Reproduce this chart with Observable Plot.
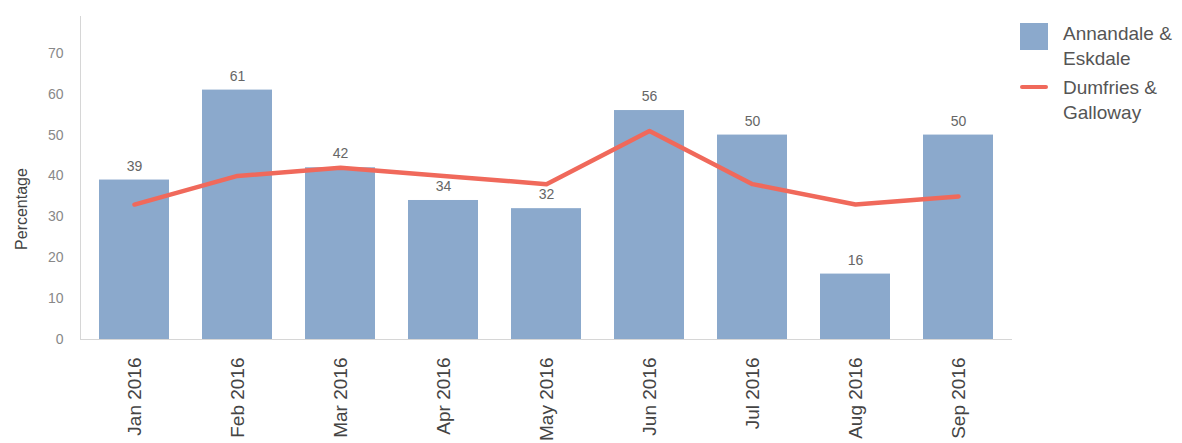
<!DOCTYPE html>
<html>
<head>
<meta charset="utf-8">
<script src="https://cdn.jsdelivr.net/npm/d3@7"></script>
<script src="https://cdn.jsdelivr.net/npm/@observablehq/plot@0.6"></script>
<style>
  body { margin: 0; background: #fff; font-family: "Liberation Sans", Arial, sans-serif; }
  #wrap { position: relative; width: 1182px; height: 443px; }
  #legend { position: absolute; left: 1020px; top: 21px; font-size: 19px; color: #555; line-height: 25px; }
  .item { display: flex; align-items: flex-start; }
  .sw { width: 28px; height: 27px; background: #8BA9CC; margin-right: 15px; margin-top: 2px; flex: none; }
  .ln { width: 28px; height: 4px; background: #F0695B; margin-right: 15px; margin-top: 10px; flex: none; border-radius: 2px; }
</style>
</head>
<body>
<div id="wrap">
  <div id="chart"></div>
  <div id="legend">
    <div class="item"><div class="sw"></div><div>Annandale &amp;<br>Eskdale</div></div>
    <div class="item" style="margin-top:4px"><div class="ln"></div><div>Dumfries &amp;<br>Galloway</div></div>
  </div>
</div>
<script>
const months = ["Jan 2016","Feb 2016","Mar 2016","Apr 2016","May 2016","Jun 2016","Jul 2016","Aug 2016","Sep 2016"];
const annandale = [39, 61, 42, 34, 32, 56, 50, 16, 50];
const dumfries = [33, 40, 42, 40, 38, 51, 38, 33, 35];
const yTicks = [0, 10, 20, 30, 40, 50, 60, 70];

const data = months.map((m, i) => ({month: m, a: annandale[i], d: dumfries[i]}));

const chart = Plot.plot({
  width: 1182,
  height: 443,
  marginLeft: 80,
  marginTop: 16,
  marginBottom: 104,
  marginRight: 170,
  style: {fontFamily: "'Liberation Sans', Arial, sans-serif", background: "#fff"},
  x: {domain: months, paddingInner: 0.32, paddingOuter: 0.16, label: null},
  y: {domain: [0, 79], label: null},
  marks: [
    Plot.barY(data, {x: "month", y: "a", fill: "#8BA9CC"}),
    Plot.frame({anchor: "left", stroke: "#d6d6d6"}),
    Plot.ruleY([0], {stroke: "#d6d6d6"}),
    Plot.line(data, {x: "month", y: "d", stroke: "#F0695B", strokeWidth: 4.5, strokeLinejoin: "round", strokeLinecap: "round"}),
    Plot.text(data, {x: "month", y: "a", text: d => String(d.a), dy: -14, fill: "#666", fontSize: 14}),
    Plot.axisY(yTicks, {tickSize: 0, tickPadding: 17, fill: "#888", fontSize: 14, label: null}),
    Plot.axisX({tickSize: 0, tickRotate: -90, tickPadding: 18, fill: "#444", fontSize: 19, label: null}),
    Plot.text(["Percentage"], {frameAnchor: "left", textAnchor: "middle", dx: -59, dy: 31, rotate: -90, fill: "#444", fontSize: 16})
  ]
});
document.getElementById("chart").appendChild(chart);
</script>
</body>
</html>
